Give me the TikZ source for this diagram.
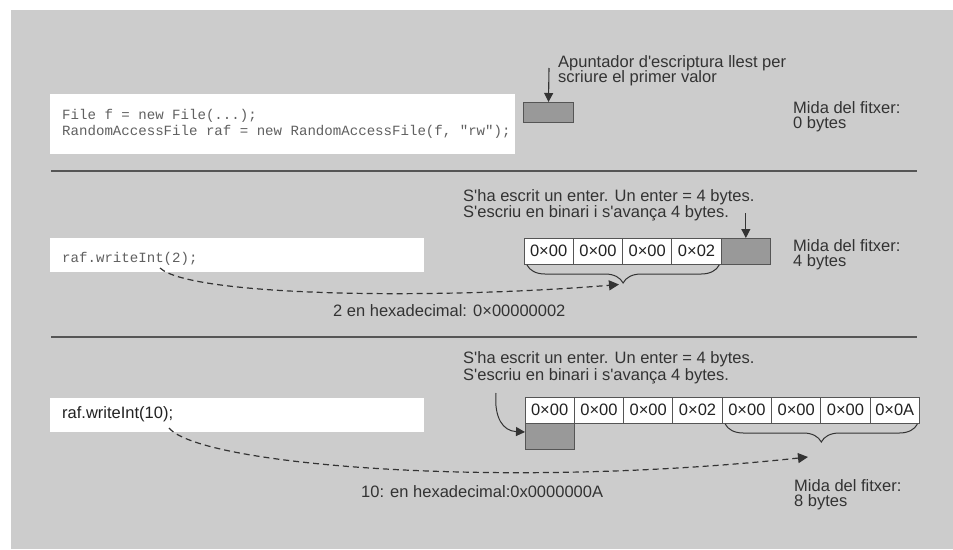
\documentclass[tikz,border=0pt]{standalone}
\usepackage{fontspec}
\newfontfamily\lsans{Liberation Sans}
\newfontfamily\lmono{Liberation Mono}
\usetikzlibrary{arrows.meta,decorations.pathreplacing}
\definecolor{bg}{HTML}{CCCCCC}
\definecolor{txt}{HTML}{333333}
\definecolor{ln}{HTML}{555555}
\definecolor{boxg}{HTML}{999999}
\definecolor{codec}{HTML}{606060}
\definecolor{codedark}{HTML}{222222}
\begin{document}
\begin{tikzpicture}[x=1pt,y=-1pt,
  lbl/.style={anchor=base west, inner sep=0pt, text=txt, font=\lsans\fontsize{16.5}{16}\selectfont},
  codetxt/.style={anchor=base west, inner sep=0pt, text=codec, font=\lmono\fontsize{14.1}{16}\selectfont},
  codebox/.style={fill=white, draw=none, anchor=north west, inner sep=0pt, outer sep=0pt},
  cell/.style={draw=ln, line width=0.9pt, fill=white, minimum width=49.3pt, minimum height=26pt, inner sep=0pt, outer sep=0pt, text=codedark, font=\lsans\fontsize{16.5}{16}\selectfont},
  ptr/.style={draw=ln, line width=0.9pt, fill=boxg, minimum width=49.3pt, minimum height=26pt, inner sep=0pt, outer sep=0pt},
  sepline/.style={draw=ln, line width=1.3pt},
  arr/.style={draw=txt, line width=1.1pt, -{Triangle[length=9pt,width=9pt]}},
  dsh/.style={draw=txt, line width=1.2pt, dash pattern=on 6pt off 4pt, -{Triangle[length=10pt,width=10pt]}},
  brc/.style={draw=txt, line width=1pt, decorate, decoration={brace, mirror, amplitude=18pt}}
]
\useasboundingbox (0,0) rectangle (953,549);
\fill[bg] (11,10) rectangle (953,549);

% ---------- panel 1 ----------
\node[codebox, minimum width=465pt, minimum height=60pt] (cb1) at (50,94) {};
\node[codetxt] (c1a) at (62,119) {File f = new File(...);};
\node[codetxt] (c1b) at (62,135) {RandomAccessFile raf = new RandomAccessFile(f, "rw");};
\node[ptr, minimum height=20pt] (p1) at (548.5,112) {};
\coordinate (a1) at (549,68);
\draw[arr] (a1) -- (p1.north);
\node[lbl] (t1a) at (558,67) {Apuntador d'escriptura llest per};
\node[lbl] (t1b) at (558,82) {scriure el primer valor};
\node[lbl] (m1a) at (793,113) {Mida del fitxer:};
\node[lbl] (m1b) at (793,128) {0 bytes};

\coordinate (s1a) at (51,171);
\coordinate (s1b) at (917,171);
\draw[sepline] (s1a) -- (s1b);

% ---------- panel 2 ----------
\node[codebox, minimum width=374pt, minimum height=34pt] (cb2) at (50,238) {};
\node[codetxt] (c2) at (62,262.3) {raf.writeInt(2);};
\node[cell] (b21) at (548.65,251) {0×00};
\node[cell, anchor=west] (b22) at (b21.east) {0×00};
\node[cell, anchor=west] (b23) at (b22.east) {0×00};
\node[cell, anchor=west] (b24) at (b23.east) {0×02};
\node[ptr, anchor=west] (p2) at (b24.east) {};
\coordinate (a2) at ([yshift=25pt]p2.north);
\draw[arr] (a2) -- (p2.north);
\draw[brc] ([shift={(3pt,-1pt)}]b21.south west) -- ([shift={(-2pt,-1pt)}]b24.south east);
\node[lbl] (e2a) at (463,201.5) {S'ha escrit un enter. Un enter = 4 bytes.};
\node[lbl] (e2b) at (463,217.5) {S'escriu en binari i s'avança 4 bytes.};
\node[lbl] (m2a) at (793,251.7) {Mida del fitxer:};
\node[lbl] (m2b) at (793,266.7) {4 bytes};
\coordinate (d2s) at (160,268);
\coordinate (d2e) at (619,284.5);
\draw[dsh] (d2s) .. controls (190,296) and (430,300) .. (d2e);
\node[lbl] (h2) at (333,316) {2 en hexadecimal: 0×00000002};

\coordinate (s2a) at (51,337);
\coordinate (s2b) at (917,337);
\draw[sepline] (s2a) -- (s2b);

% ---------- panel 3 ----------
\node[codebox, minimum width=374pt, minimum height=34pt] (cb3) at (50,398) {};
\node[anchor=base west, inner sep=0pt, text=codedark, font=\lsans\fontsize{16.5}{16}\selectfont] (c3) at (62,418.3) {raf.writeInt(10);};
\node[cell] (b31) at (549.65,410) {0×00};
\node[cell, anchor=west] (b32) at (b31.east) {0×00};
\node[cell, anchor=west] (b33) at (b32.east) {0×00};
\node[cell, anchor=west] (b34) at (b33.east) {0×02};
\node[cell, anchor=west] (b35) at (b34.east) {0×00};
\node[cell, anchor=west] (b36) at (b35.east) {0×00};
\node[cell, anchor=west] (b37) at (b36.east) {0×00};
\node[cell, anchor=west] (b38) at (b37.east) {0×0A};
\node[ptr, anchor=north] (p3) at (b31.south) {};
\coordinate (a3) at (496,393);
\draw[arr, line width=1pt] (a3) .. controls (494,418) and (503,431) .. ([yshift=4pt]p3.west);
\draw[brc] ([shift={(3pt,-1pt)}]b35.south west) -- ([shift={(-2pt,-1pt)}]b38.south east);
\node[lbl] (e3a) at (463,363.3) {S'ha escrit un enter. Un enter = 4 bytes.};
\node[lbl] (e3b) at (463,380) {S'escriu en binari i s'avança 4 bytes.};
\node[lbl] (m3a) at (794,491.7) {Mida del fitxer:};
\node[lbl] (m3b) at (794,506.7) {8 bytes};
\coordinate (d3s) at (169,428);
\coordinate (d3e) at (808,457);
\draw[dsh] (d3s) .. controls (200,465) and (500,490) .. (d3e);
\node[lbl] (h3) at (361,497) {10: en hexadecimal:0x0000000A};
\end{tikzpicture}
\end{document}
